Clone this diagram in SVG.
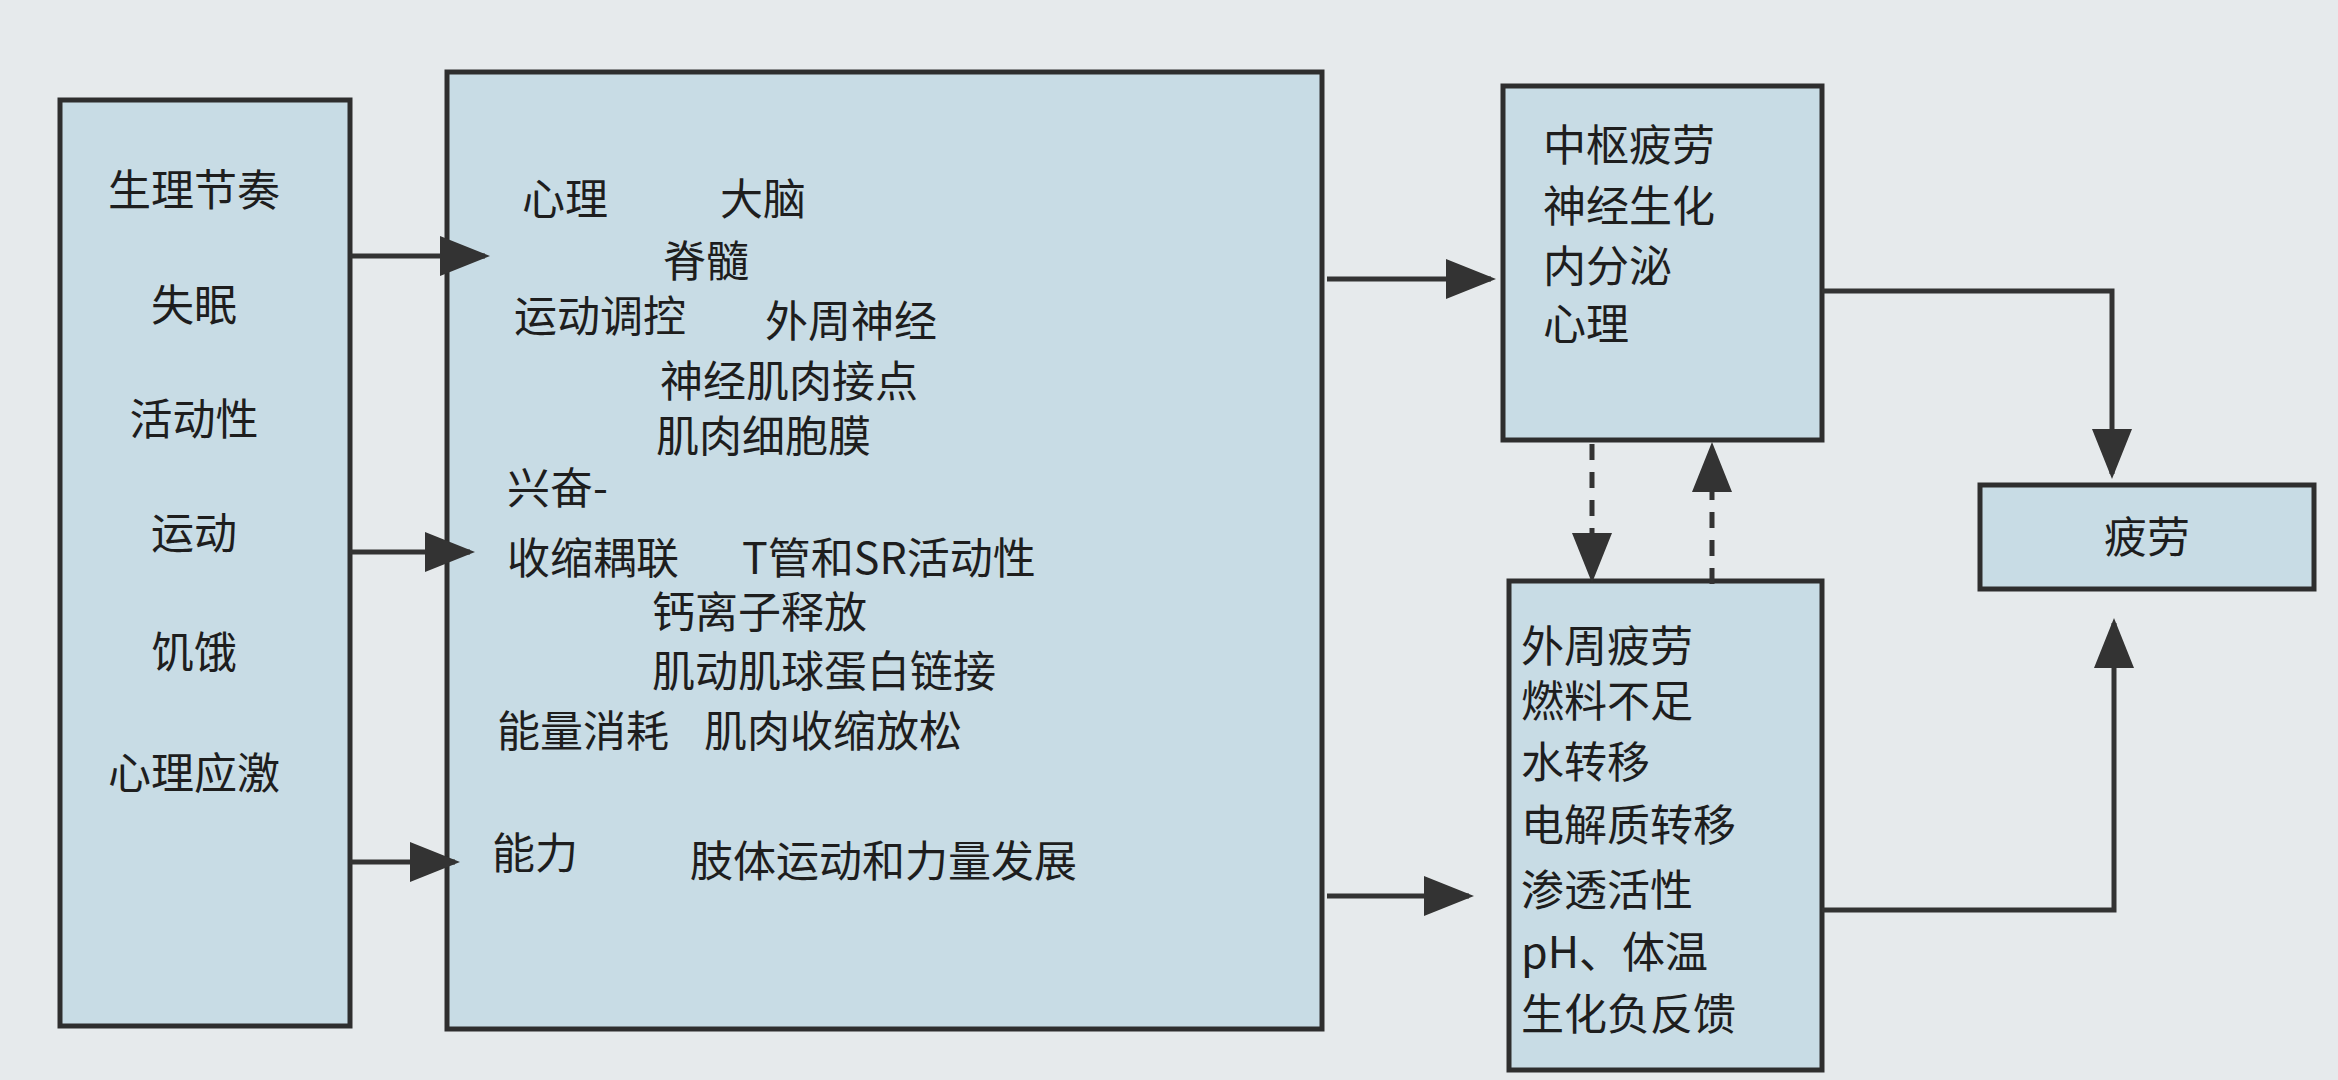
<svg xmlns="http://www.w3.org/2000/svg" width="2338" height="1080" viewBox="0 0 2338 1080">
<defs>
<style>
.box{fill:#c8dce5;stroke:#2e2e2e;stroke-width:5}
text{font-family:"Noto Sans CJK SC","Noto Sans",sans-serif;font-size:43px;fill:#1e1e1e}
.c{text-anchor:middle}
.ln{stroke:#333;stroke-width:5;fill:none}
.ds{stroke:#333;stroke-width:5;fill:none;stroke-dasharray:16 12}
</style>
<marker id="ah" markerWidth="10" markerHeight="8" refX="9" refY="4" orient="auto" markerUnits="strokeWidth"><path d="M0,0 L10,4 L0,8 Z" fill="#333"/></marker>
</defs>
<rect width="2338" height="1080" fill="#e6eaec"/>
<g id="left"><rect class="box" x="60" y="100" width="290" height="926"/>
<text class="c" x="194" y="206">生理节奏</text><text class="c" x="194" y="321">失眠</text><text class="c" x="194" y="435">活动性</text><text class="c" x="194" y="549">运动</text><text class="c" x="194" y="668">饥饿</text><text class="c" x="194" y="789">心理应激</text></g>
<g id="middle"><rect class="box" x="447" y="72" width="875" height="957"/>
<text x="522" y="215">心理</text><text x="720" y="215">大脑</text><text x="663" y="277">脊髓</text><text x="514" y="332">运动调控</text><text x="765" y="337">外周神经</text><text x="660" y="397">神经肌肉接点</text><text x="656" y="452">肌肉细胞膜</text><text x="507" y="504">兴奋-</text><text x="507" y="574">收缩耦联</text><text x="742" y="574">T管和SR活动性</text><text x="652" y="628">钙离子释放</text><text x="652" y="687">肌动肌球蛋白链接</text><text x="497" y="747">能量消耗</text><text x="704" y="747">肌肉收缩放松</text><text x="492" y="869">能力</text><text x="690" y="877">肢体运动和力量发展</text></g>
<g id="central"><rect class="box" x="1503" y="86" width="319" height="354"/>
<text x="1543" y="161">中枢疲劳</text><text x="1543" y="222">神经生化</text><text x="1543" y="282">内分泌</text><text x="1543" y="340">心理</text></g>
<g id="peripheral"><rect class="box" x="1509" y="581" width="313" height="489"/>
<text x="1521" y="662">外周疲劳</text><text x="1521" y="717">燃料不足</text><text x="1521" y="778">水转移</text><text x="1521" y="841">电解质转移</text><text x="1521" y="906">渗透活性</text><text x="1521" y="968">pH、体温</text><text x="1521" y="1030">生化负反馈</text></g>
<g id="fatigue"><rect class="box" x="1980" y="485" width="334" height="104"/>
<text class="c" x="2147" y="553">疲劳</text></g>
<g id="connectors">
<line class="ln" x1="350" y1="256" x2="485" y2="256" marker-end="url(#ah)"/>
<line class="ln" x1="350" y1="552" x2="470" y2="552" marker-end="url(#ah)"/>
<line class="ln" x1="350" y1="862" x2="455" y2="862" marker-end="url(#ah)"/>
<line class="ln" x1="1327" y1="279" x2="1491" y2="279" marker-end="url(#ah)"/>
<line class="ln" x1="1327" y1="896" x2="1469" y2="896" marker-end="url(#ah)"/>
<polyline class="ln" points="1822,291 2112,291 2112,474" marker-end="url(#ah)"/>
<polyline class="ln" points="1822,910 2114,910 2114,623" marker-end="url(#ah)"/>
<line class="ds" x1="1592" y1="444" x2="1592" y2="578" marker-end="url(#ah)"/>
<line class="ds" x1="1712" y1="584" x2="1712" y2="447" marker-end="url(#ah)"/>
</g>
</svg>
